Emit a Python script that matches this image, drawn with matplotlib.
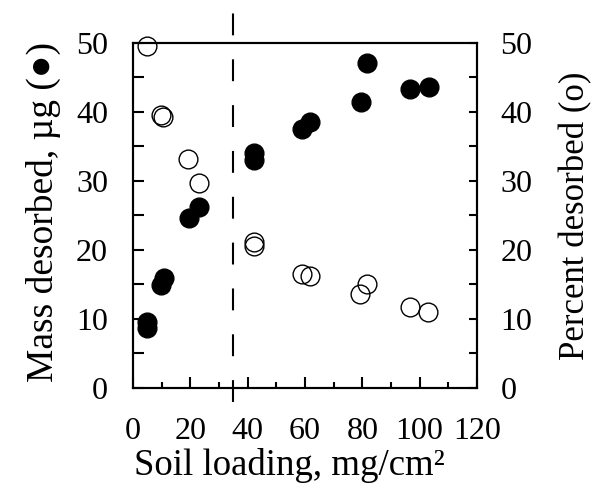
import matplotlib
matplotlib.use("Agg")
import matplotlib.pyplot as plt
from matplotlib.ticker import MultipleLocator

plt.rcParams['font.family'] = ['Liberation Serif', 'DejaVu Serif']

# filled circles: mass desorbed (ug)
mass_x = [4.8, 5.0, 9.7, 10.8, 19.4, 23.1, 42.1, 42.1, 58.8, 61.7, 79.4, 81.5, 96.6, 103.2]
mass_y = [8.7, 9.5, 14.9, 16.0, 24.6, 26.2, 33.0, 34.1, 37.5, 38.5, 41.5, 47.1, 43.3, 43.6]

# open circles: percent desorbed
pct_x = [4.8, 9.9, 10.6, 19.3, 23.1, 42.1, 42.1, 59.1, 61.7, 79.2, 81.5, 96.6, 103.0]
pct_y = [49.6, 39.5, 39.3, 33.2, 29.7, 21.2, 20.6, 16.5, 16.2, 13.6, 15.1, 11.7, 11.0]

cutoff_x = 35

fig = plt.figure(figsize=(6, 4.95), dpi=100)
ax = fig.add_axes([0.2217, 0.2162, 0.5733, 0.6970])
ax2 = ax.twinx()

ax.plot(mass_x, mass_y, 'o', color='black', markersize=13.5, clip_on=False, zorder=3)
ax2.plot(pct_x, pct_y, 'o', markerfacecolor='none', markeredgecolor='black',
         markeredgewidth=1.0, markersize=13.5, clip_on=False, zorder=3)

ax.plot([cutoff_x, cutoff_x], [-2, 54.7], color='black', linewidth=1.5,
        dashes=(10.5, 11.5), clip_on=False)

ax.set_xlim(0, 120)
ax.set_ylim(0, 50)
ax2.set_ylim(0, 50)

ax.xaxis.set_major_locator(MultipleLocator(20))
ax.xaxis.set_minor_locator(MultipleLocator(10))
ax.yaxis.set_major_locator(MultipleLocator(10))
ax.yaxis.set_minor_locator(MultipleLocator(5))
ax2.yaxis.set_major_locator(MultipleLocator(10))
ax2.yaxis.set_minor_locator(MultipleLocator(5))

ax.tick_params(axis='x', which='major', direction='in', length=8, width=1.5,
               labelsize=23, pad=21, top=False)
ax.tick_params(axis='x', which='minor', direction='in', length=4, width=1.5, top=False)
ax.tick_params(axis='y', which='both', direction='in', length=8, width=1.5,
               labelsize=23, pad=18)
ax2.tick_params(axis='y', which='both', direction='in', length=6, width=1.5,
                labelsize=23, pad=17)

for a in (ax, ax2):
    for s in a.spines.values():
        s.set_linewidth(1.5)

ax.set_xlabel('Soil loading, mg/cm²', fontsize=26.5, labelpad=1)
ax.xaxis.label.set_x(0.455)
ax.set_ylabel('Mass desorbed, µg (●)', fontsize=27, labelpad=11,
              family=['Liberation Serif', 'DejaVu Sans'])
ax.yaxis.label.set_y(0.51)
ax2.set_ylabel('Percent desorbed (o)', fontsize=25, rotation=90, labelpad=19)

fig.savefig('out.png', dpi=100)
